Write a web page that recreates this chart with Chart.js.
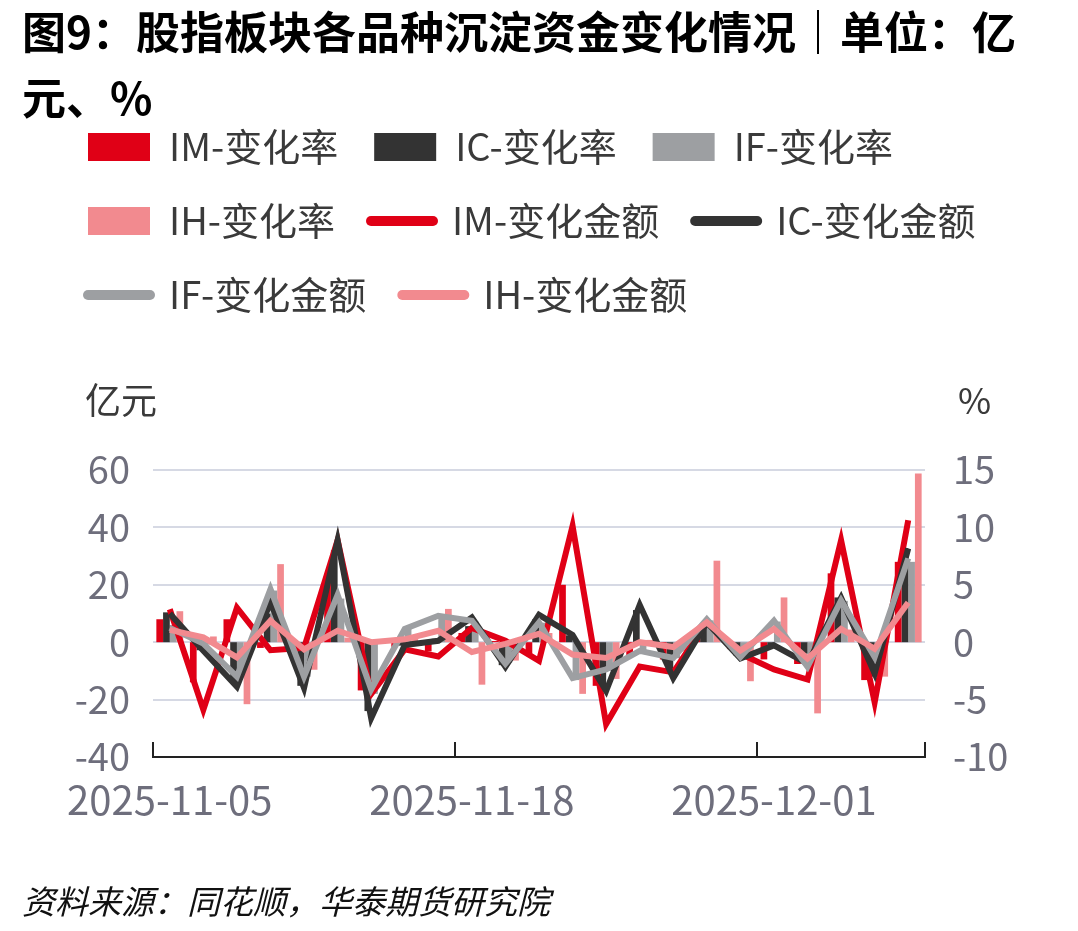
<!DOCTYPE html>
<html lang="zh-CN">
<head>
<meta charset="UTF-8">
<title>股指板块各品种沉淀资金变化情况</title>
<script src="https://cdn.jsdelivr.net/npm/chart.js@4.4.1/dist/chart.umd.min.js"></script>
<style>
    html, body { margin: 0; padding: 0; background: #fff; }
    .wrap { position: relative; width: 1078px; height: 931px; overflow: hidden; }
    .title {
        position: absolute; left: 22px; top: -3px;
        font-family: "Noto Sans CJK SC", sans-serif;
        font-size: 44px; font-weight: 700; line-height: 66px; color: #000;
        white-space: nowrap;
    }
    .source {
        position: absolute; left: 22px; top: 876px;
        font-family: "Noto Sans CJK SC", sans-serif;
        font-size: 33px; font-style: italic; color: #111;
        white-space: nowrap;
    }
    canvas { position: absolute; left: 0; top: 0; }
</style>
</head>
<body>
<div class="wrap">
    <canvas id="fund-chart" width="1078" height="931"></canvas>
    <div class="title">图9：股指板块各品种沉淀资金变化情况｜单位：亿<br>元、%</div>
    <div class="source">资料来源：同花顺，华泰期货研究院</div>
</div>
<script>
// 交易日
const dates = [
    '2025-11-05', '2025-11-06', '2025-11-07', '2025-11-10', '2025-11-11',
    '2025-11-12', '2025-11-13', '2025-11-14', '2025-11-17', '2025-11-18',
    '2025-11-19', '2025-11-20', '2025-11-21', '2025-11-24', '2025-11-25',
    '2025-11-26', '2025-11-27', '2025-11-28', '2025-12-01', '2025-12-02',
    '2025-12-03', '2025-12-04', '2025-12-05'
];

// 变化率（%，右轴）
const imRate = [2.0, -3.5, 2.0, -0.5, -0.3, 5.5, -4.2, -0.4, -0.8, 0.8, 0.1, -1.0, 5.0, -3.8, -1.2, -1.5, 1.0, -0.6, -1.5, -1.9, 6.0, -3.3, 7.0];
const icRate = [2.6, -0.7, -3.5, 2.5, -3.8, 8.0, -6.0, -0.3, 0.3, 1.4, -2.0, 2.0, 0.6, -3.8, 2.8, -2.7, 1.5, -1.2, -0.3, -1.0, 3.9, -3.0, 8.2];
const ifRate = [1.5, -0.2, -3.0, 4.5, -3.0, 3.8, -4.5, 1.2, 2.2, 1.8, -1.8, 1.7, -3.3, -2.5, -0.7, -1.4, 1.9, -1.2, 1.8, -2.0, 3.6, -1.3, 7.0];
const ihRate = [2.7, 0.5, -5.4, 6.8, -2.4, 0.4, 0.2, 0.5, 2.9, -3.7, -1.6, 0.8, -4.5, -3.2, 0.2, -0.8, 7.1, -3.4, 3.9, -6.2, 1.1, -3.0, 14.7];

// 变化金额（亿元，左轴）
const imAmount = [11.5, -23.5, 12.0, -2.8, -2.0, 35.5, -18.0, -2.5, -5.0, 5.0, 0.5, -6.5, 40.5, -28.5, -8.5, -10.5, 7.0, -4.0, -9.5, -13.0, 35.5, -21.0, 42.5];
const icAmount = [10.0, -3.0, -15.5, 14.0, -16.0, 35.5, -26.5, -1.0, 0.5, 8.6, -8.6, 9.5, 2.5, -17.0, 13.0, -12.5, 6.9, -5.7, -1.1, -7.5, 15.5, -10.9, 32.7];
const ifAmount = [5.0, -0.5, -12.0, 18.5, -12.0, 16.5, -16.5, 4.6, 9.2, 7.5, -7.5, 6.9, -12.5, -9.5, -3.0, -5.5, 8.0, -5.2, 7.5, -8.6, 14.5, -5.2, 29.2];
const ihAmount = [4.3, 1.7, -5.3, 7.5, -2.5, 4.0, 0.0, 1.0, 4.0, -3.4, -0.6, 2.9, -4.3, -5.5, 0.0, -1.7, 6.9, -2.9, 4.6, -5.7, 4.6, -2.3, 13.8];

// 坐标轴刻度
const leftTicks = [-40, -20, 0, 20, 40, 60];
const rightTicks = [-10, -5, 0, 5, 10, 15];
const labelEvery = 9;

const FONT = '"Noto Sans CJK SC", "Noto Sans", sans-serif';
const RED = '#E00016';
const DARK = '#333333';
const GREY = '#9D9FA2';
const PINK = '#F28A8F';
const TICK_COLOR = '#6E6E7C';

// 柱状（变化率）
function barSet(label, data, color) {
    return {
        type: 'bar', label, data, yAxisID: 'y1',
        backgroundColor: color, borderWidth: 0,
        categoryPercentage: 0.8, barPercentage: 1.0,
        order: 10
    };
}

// 折线（变化金额）
function lineSet(label, data, color, order) {
    return {
        type: 'line', label, data, yAxisID: 'y',
        borderColor: color, backgroundColor: color,
        borderWidth: 6, pointRadius: 0, tension: 0, fill: false,
        order
    };
}

// 图例与坐标区之间留白
const legendSpace = {
    id: 'legendSpace',
    beforeInit(chart) {
        const fit = chart.legend.fit;
        chart.legend.fit = function () {
            fit.call(this);
            this.height += 146;
        };
    }
};

// 轴单位
const unitLabels = {
    id: 'unitLabels',
    afterDraw(chart) {
        const { ctx, chartArea, scales } = chart;
        ctx.save();
        ctx.font = '36px ' + FONT;
        ctx.fillStyle = '#3A3A3A';
        ctx.textBaseline = 'middle';
        ctx.textAlign = 'left';
        ctx.fillText('亿元', scales.y.left + 33, chartArea.top - 70);
        ctx.fillText('%', scales.y1.left + 33, chartArea.top - 70);
        ctx.restore();
    }
};

new Chart(document.getElementById('fund-chart'), {
    type: 'bar',
    data: {
        labels: dates,
        datasets: [
            barSet('IM-变化率', imRate, RED),
            barSet('IC-变化率', icRate, DARK),
            barSet('IF-变化率', ifRate, GREY),
            barSet('IH-变化率', ihRate, PINK),
            lineSet('IM-变化金额', imAmount, RED, 4),
            lineSet('IC-变化金额', icAmount, DARK, 3),
            lineSet('IF-变化金额', ifAmount, GREY, 2),
            lineSet('IH-变化金额', ihAmount, PINK, 1)
        ]
    },
    options: {
        responsive: false,
        animation: false,
        devicePixelRatio: 1,
        layout: { padding: { left: 52, top: 92, right: 0, bottom: 0 } },
        plugins: {
            tooltip: { enabled: false },
            legend: {
                position: 'top',
                align: 'start',
                labels: {
                    usePointStyle: true,
                    pointStyleWidth: 62,
                    boxHeight: 28,
                    padding: 36,
                    color: '#3A3A3A',
                    font: { size: 38, family: FONT },
                    sort: (a, b) => a.datasetIndex - b.datasetIndex,
                    generateLabels: (chart) => chart.data.datasets.map((ds, i) => {
                        const isLine = ds.type === 'line';
                        const color = isLine ? ds.borderColor : ds.backgroundColor;
                        return {
                            text: ds.label,
                            datasetIndex: i,
                            fillStyle: color,
                            strokeStyle: color,
                            fontColor: '#3A3A3A',
                            lineWidth: isLine ? 10 : 0,
                            lineCap: 'round',
                            pointStyle: isLine ? 'line' : 'rect',
                            hidden: false
                        };
                    })
                }
            }
        },
        scales: {
            x: {
                offset: true,
                grid: {
                    offset: true,
                    drawOnChartArea: false,
                    drawTicks: true,
                    tickLength: -15,
                    lineWidth: 2,
                    tickColor: (ctx) => (ctx.index === undefined || ctx.index % labelEvery === 0) ? '#222' : 'rgba(0,0,0,0)'
                },
                border: { display: true, color: '#222', width: 2 },
                ticks: {
                    autoSkip: false,
                    maxRotation: 0,
                    minRotation: 0,
                    padding: 34,
                    color: TICK_COLOR,
                    font: { size: 40, family: FONT },
                    callback: (value, index) => index % labelEvery === 0 ? dates[index] : ''
                },
                afterFit: (scale) => { scale.height = 174; }
            },
            y: {
                position: 'left',
                min: leftTicks[0],
                max: leftTicks[leftTicks.length - 1],
                afterBuildTicks: (scale) => { scale.ticks = leftTicks.map(v => ({ value: v })); },
                grid: {
                    drawTicks: false,
                    lineWidth: 2,
                    color: (ctx) => ctx.tick && ctx.tick.value === leftTicks[0] ? 'rgba(0,0,0,0)' : '#D6D9E4'
                },
                border: { display: false },
                ticks: {
                    padding: 23,
                    color: TICK_COLOR,
                    font: { size: 38, family: FONT }
                },
                afterFit: (scale) => { scale.width = 101; }
            },
            y1: {
                position: 'right',
                min: rightTicks[0],
                max: rightTicks[rightTicks.length - 1],
                afterBuildTicks: (scale) => { scale.ticks = rightTicks.map(v => ({ value: v })); },
                grid: { display: false, drawOnChartArea: false, drawTicks: false },
                border: { display: false },
                ticks: {
                    padding: 28,
                    color: TICK_COLOR,
                    font: { size: 38, family: FONT }
                },
                afterFit: (scale) => { scale.width = 153; }
            }
        }
    },
    plugins: [legendSpace, unitLabels]
});
</script>
</body>
</html>
